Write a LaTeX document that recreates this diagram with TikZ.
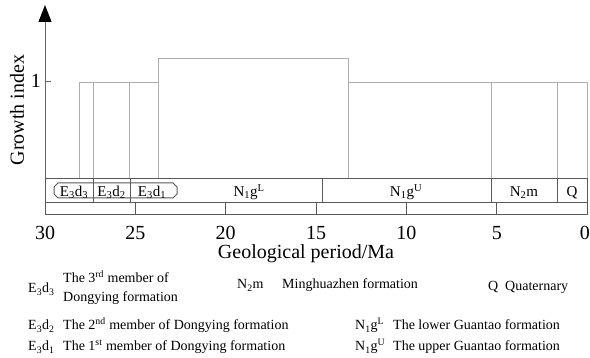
\documentclass[tikz,border=0pt]{standalone}
\usepackage{fontspec}
\setmainfont{Liberation Serif}
\usetikzlibrary{arrows.meta}

\tikzset{
  bar/.style={draw=black!32, line width=0.9pt},
  strip/.style={draw=black!65, line width=1pt},
  ax/.style={font=\fontsize{20}{22}\selectfont, inner sep=0pt},
  unit/.style={font=\fontsize{15}{17}\selectfont, inner sep=0pt, anchor=base},
  leg/.style={font=\fontsize{14}{17}\selectfont, inner sep=0pt, anchor=base west}
}

\begin{document}
\begin{tikzpicture}[x=1pt, y=-1pt]
\useasboundingbox (0,0) rectangle (590,358);

% axis
\coordinate (o) at (45,179);
\coordinate (top) at (45,5);
\coordinate (one) at (45,82);
\draw[black!60, line width=1pt, -{Triangle[length=17pt,width=13pt,black]}] (o) -- (top);
\draw[black!60, line width=1pt] (one) -- ++(6,0);
\node[ax, anchor=base east] (l1) at (41,88) {1};
\node[ax, rotate=90] (ylab) at (17,110) {Growth index};

% growth index
\draw[bar] (79,179) |- (158,82) |- (348,58) |- (587,82) -- (587,179);
\foreach \x in {93,129,158,348,491,557}
  \draw[bar] (\x,82) -- (\x,179);

% strip of formations
\draw[strip] (45,179) rectangle (587,215);
\draw[strip] (45,203) -- (587,203);
\foreach \x in {93,130,322,491,557}
  \draw[strip] (\x,179) -- (\x,203);
\draw[strip] (58,183) -- (54,187) -- (54,194) -- (58,198) -- (173,198)
  -- (177,194) -- (177,187) -- (173,183) -- cycle;
\foreach \t in {25,20,...,5}
  \draw[strip] ({45+(30-\t)*18.07},203) -- ++(0,12);

\node[unit] (d3) at (74,196.5) {E\textsubscript{3}d\textsubscript{3}};
\node[unit] (d2) at (111.5,196.5) {E\textsubscript{3}d\textsubscript{2}};
\node[unit] (d1) at (152,196.5) {E\textsubscript{3}d\textsubscript{1}};
\node[unit] (gl) at (249,196.5) {N\textsubscript{1}g\textsuperscript{L}};
\node[unit] (gu) at (406,196.5) {N\textsubscript{1}g\textsuperscript{U}};
\node[unit] (nm) at (524,196.5) {N\textsubscript{2}m};
\node[unit] (q) at (572,196.5) {Q};

% time axis
\foreach \t in {30,25,...,5}
  \node[ax, anchor=base] (t\t) at ({45+(30-\t)*18.07},240) {\t};
\node[ax, anchor=base east] (t0) at (590,240) {0};
\node[ax, anchor=base] (xlab) at (306,259) {Geological period/Ma};

% legend
\node[leg] (k1) at (28,293) {E\textsubscript{3}d\textsubscript{3}};
\node[leg] (k1a) at (63,283) {The 3\textsuperscript{rd} member of};
\node[leg] (k1b) at (63,302) {Dongying formation};
\node[leg] (k4) at (237,289) {N\textsubscript{2}m};
\node[leg] (k4t) at (282,289) {Minghuazhen formation};
\node[leg] (k7) at (488,291) {Q};
\node[leg] (k7t) at (505,291) {Quaternary};
\node[leg] (k2) at (28,330) {E\textsubscript{3}d\textsubscript{2}};
\node[leg] (k2t) at (63,330) {The 2\textsuperscript{nd} member of Dongying formation};
\node[leg] (k5) at (355,330) {N\textsubscript{1}g\textsuperscript{L}};
\node[leg] (k5t) at (393,330) {The lower Guantao formation};
\node[leg] (k3) at (28,351) {E\textsubscript{3}d\textsubscript{1}};
\node[leg] (k3t) at (63,351) {The 1\textsuperscript{st} member of Dongying formation};
\node[leg] (k6) at (355,351) {N\textsubscript{1}g\textsuperscript{U}};
\node[leg] (k6t) at (393,351) {The upper Guantao formation};
\end{tikzpicture}
\end{document}
